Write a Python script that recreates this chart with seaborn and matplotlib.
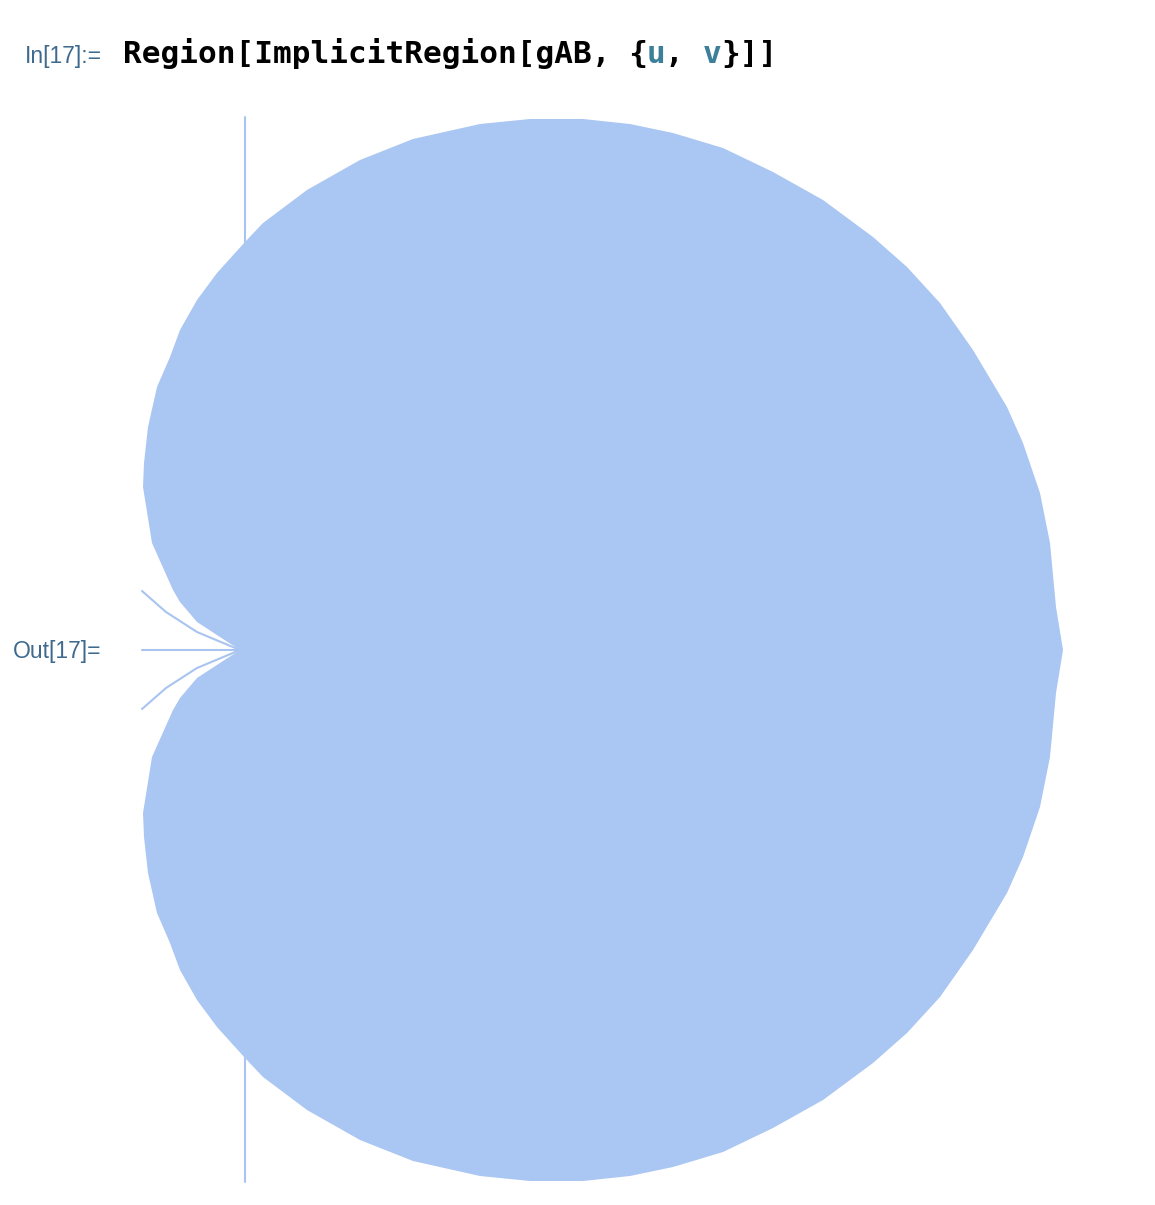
import matplotlib

matplotlib.use("Agg")
import matplotlib.pyplot as plt
import numpy as np
import pandas as pd
import seaborn as sns

# upper half of the region boundary, from the cusp round the top to the right extreme
upper_u = [0.00, -0.20, -0.43, -0.60, -0.67, -0.88, -0.97, -0.96, -0.92, -0.83,
           -0.70, -0.60, -0.43, -0.23, 0.05, 0.23, 0.67, 1.20, 1.73, 2.40,
           2.90, 3.43, 3.90, 4.33, 4.83, 5.33, 5.83, 6.33, 6.67, 7.00,
           7.33, 7.67, 7.83, 8.00, 8.10, 8.16, 8.23]
upper_v = [0.00, 0.13, 0.28, 0.48, 0.60, 1.07, 1.63, 1.87, 2.23, 2.63,
           2.93, 3.20, 3.50, 3.77, 4.08, 4.27, 4.60, 4.90, 5.11, 5.26,
           5.31, 5.31, 5.26, 5.17, 5.02, 4.78, 4.50, 4.13, 3.83, 3.47,
           3.00, 2.43, 2.07, 1.57, 1.07, 0.43, 0.00]

# lower-dimensional pieces: vertical segment and spikes into the cusp
stem_u = [0.05, 0.05]
stem_v = [5.33, -5.32]
spike_u = [-0.98, -0.74, -0.43, 0.00]
spike_v = [0.59, 0.38, 0.18, 0.00]
flat_u = [-0.98, 0.00]
flat_v = [0.00, 0.00]

fill_color = "#aac6f2"
line_color = "#a9c4f0"
label_color = "#3f6a8d"
var_color = "#3c7f9a"

sns.set_style("white")
fig = plt.figure(figsize=(11.55, 12.05), dpi=100)
ax = fig.add_axes([0, 0, 1, 1])

# full closed boundary: upper half then mirrored lower half
bu = np.array(upper_u + upper_u[::-1][1:])
bv = np.array(upper_v + [-v for v in upper_v[::-1][1:]])
ax.fill(bu, bv, color=fill_color, linewidth=0, zorder=3)

pieces = [
    (stem_u, stem_v, "stem"),
    (spike_u, spike_v, "spike_up"),
    (spike_u, [-v for v in spike_v], "spike_down"),
    (flat_u, flat_v, "flat"),
]
df = pd.concat(
    [pd.DataFrame({"u": u, "v": v, "piece": name}) for u, v, name in pieces],
    ignore_index=True,
)
for name, grp in df.groupby("piece"):
    sns.lineplot(data=grp, x="u", y="v", sort=False, estimator=None,
                 color=line_color, linewidth=1.5, ax=ax, zorder=2)

ax.set_xlim(-2.40, 9.15)
ax.set_ylim(-5.55, 6.50)
ax.set_axis_off()

W, H = 1155, 1205


def fx(px):
    return px / W


def fy(py):
    return 1 - py / H


fig.text(fx(102), fy(63), "In[17]:=", ha="right", va="baseline",
         fontsize=16.5, color=label_color, family="Liberation Sans")
fig.text(fx(101), fy(658), "Out[17]=", ha="right", va="baseline",
         fontsize=16.5, color=label_color, family="Liberation Sans")

code_parts = [
    ("Region[ImplicitRegion[gAB, {", 0, "black"),
    ("u", 28, var_color),
    (", ", 29, "black"),
    ("v", 31, var_color),
    ("}]]", 32, "black"),
]
char_w = 18.7
for txt, pos, col in code_parts:
    fig.text(fx(123 + pos * char_w), fy(63), txt, ha="left", va="baseline",
             fontsize=22.4, fontweight="bold", color=col, family="DejaVu Sans Mono")

fig.savefig("out.png", dpi=100)
plt.close(fig)
